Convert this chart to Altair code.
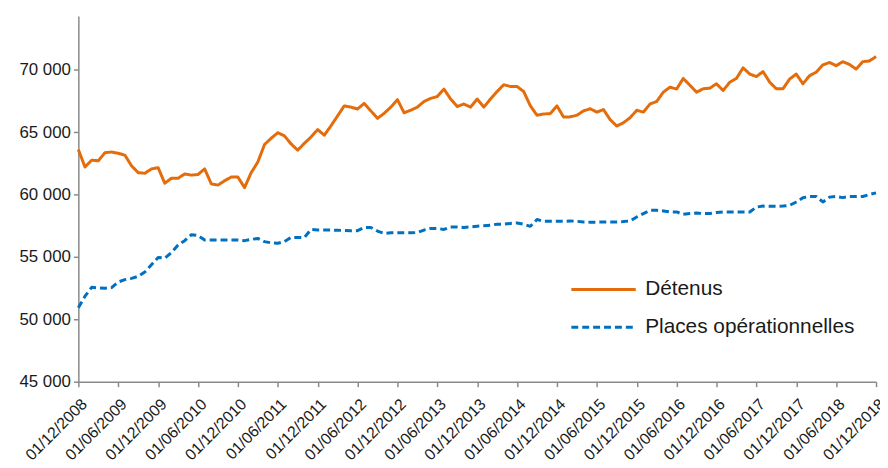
import json
import altair as alt
import pandas as pd

# Tick labels (every 6 months)
tick_labels = [
    "01/12/2008", "01/06/2009", "01/12/2009", "01/06/2010", "01/12/2010",
    "01/06/2011", "01/12/2011", "01/06/2012", "01/12/2012", "01/06/2013",
    "01/12/2013", "01/06/2014", "01/12/2014", "01/06/2015", "01/12/2015",
    "01/06/2016", "01/12/2016", "01/06/2017", "01/12/2017", "01/06/2018",
    "01/12/2018",
]

series_names = ["Détenus", "Places opérationnelles"]

# Monthly values, Dec 2008 .. Dec 2018
detenus = [
    63600, 62200, 62750, 62700, 63350, 63400, 63300, 63150, 62300, 61750,
    61700, 62050, 62150, 60900, 61300, 61300, 61650, 61550, 61600, 62050,
    60850, 60750, 61100, 61400, 61400, 60550, 61750, 62600, 64000, 64500,
    64950, 64700, 64050, 63550, 64100, 64600, 65200, 64750, 65500, 66300,
    67100, 67000, 66850, 67300, 66700, 66100, 66500, 67000, 67600, 66550,
    66750, 67000, 67450, 67700, 67850, 68450, 67650, 67050, 67250, 67000,
    67650, 67000, 67650, 68250, 68800, 68650, 68650, 68250, 67100, 66350,
    66450, 66480, 67100, 66200, 66220, 66350, 66700, 66870, 66600, 66800,
    66000, 65480, 65750, 66150, 66750, 66600, 67250, 67450, 68200, 68600,
    68450, 69300, 68750, 68200, 68470, 68520, 68870, 68330, 69000, 69300,
    70150, 69650, 69450, 69850, 69000, 68470, 68470, 69250, 69650, 68870,
    69520, 69800, 70380, 70580, 70320, 70640, 70420, 70050, 70640, 70700,
    71050,
]

places = [
    50930, 51850, 52560, 52520, 52490, 52540, 52990, 53180, 53280, 53440,
    53790, 54370, 54950, 54900, 55340, 55950, 56300, 56780, 56720, 56350,
    56350, 56350, 56350, 56350, 56350, 56300, 56400, 56480, 56220, 56130,
    56090, 56220, 56560, 56560, 56550, 57200, 57150, 57150, 57150, 57130,
    57120, 57100, 57100, 57360, 57360, 57070, 56880, 56930, 56930, 56930,
    56930, 56950, 57150, 57280, 57280, 57200, 57400, 57400, 57360, 57400,
    57460, 57490, 57540, 57620, 57620, 57680, 57720, 57620, 57450, 58000,
    57850, 57850, 57850, 57850, 57880, 57850, 57800, 57780, 57780, 57800,
    57800, 57800, 57830, 57880, 58200, 58470, 58730, 58730, 58680, 58600,
    58600, 58410, 58470, 58520, 58470, 58470, 58550, 58600, 58600, 58600,
    58600, 58600, 58990, 59070, 59050, 59050, 59070, 59130, 59400, 59740,
    59840, 59840, 59400, 59790, 59840, 59750, 59840, 59840, 59840, 60000,
    60130,
]

y_ticks = [45000, 50000, 55000, 60000, 65000, 70000]
colors = ["#E46C0A", "#0070C0"]
dashes = [[1, 0], [7, 4]]

n = len(detenus)
df = pd.DataFrame({
    "mois": list(range(n)) * 2,
    "valeur": detenus + places,
    "serie": [series_names[0]] * n + [series_names[1]] * n,
})

tick_positions = list(range(0, n, 6))
x_label_expr = json.dumps(tick_labels) + "[round(datum.value / 6)]"

legend = alt.Legend(title=None, orient="none", legendX=496, legendY=264)

chart = alt.Chart(df).mark_line(strokeWidth=3, strokeJoin="round").encode(
    x=alt.X(
        "mois:Q",
        scale=alt.Scale(domain=[0, n - 1], nice=False, zero=False),
        axis=alt.Axis(
            values=tick_positions, labelExpr=x_label_expr, labelAngle=-45,
            labelAlign="right", labelBaseline="top",
            labelOverlap=False, labelBound=False, labelFlush=False,
            title=None, grid=False, tickSize=5, labelFontSize=16,
            labelPadding=9,
        ),
    ),
    y=alt.Y(
        "valeur:Q",
        scale=alt.Scale(domain=[45000, 74300], nice=False, zero=False),
        axis=alt.Axis(
            values=y_ticks,
            labelExpr="replace(format(datum.value, ','), ',', ' ')",
            title=None, grid=False, tickSize=5, labelFontSize=17, labelPadding=3,
            labelOverlap=False,
        ),
    ),
    color=alt.Color("serie:N", scale=alt.Scale(domain=series_names, range=colors), legend=legend),
    strokeDash=alt.StrokeDash("serie:N", scale=alt.Scale(domain=series_names, range=dashes), legend=legend),
).properties(
    width=805,
    height=369,
    autosize=alt.AutoSizeParams(type="none"),
    padding={"left": 71, "top": 6, "right": 4, "bottom": 84},
).configure_view(
    stroke=None
).configure_axis(
    labelFont="Liberation Sans",
    labelColor="#1a1a1a",
    domainColor="#8a8a8a",
    tickColor="#8a8a8a",
    domainWidth=1.5,
    tickWidth=1.5,
).configure_legend(
    symbolType="stroke",
    symbolSize=4225,
    symbolStrokeWidth=3,
    clipHeight=24,
    rowPadding=14,
    labelFontSize=21,
    labelFont="Liberation Sans",
    labelColor="#1a1a1a",
    labelOffset=8,
    labelLimit=400,
    padding=0,
)

chart.save("out.html", embed_options={"renderer": "svg", "actions": False})
